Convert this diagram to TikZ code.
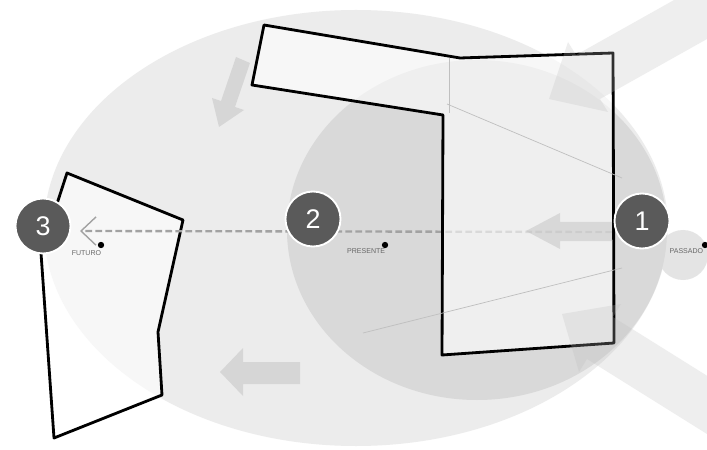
\documentclass[tikz,border=0pt]{standalone}
\usepackage{fontspec}
\setmainfont{Liberation Sans}
\usepackage{xcolor}
\usepackage{tikz}
\usetikzlibrary{arrows.meta, positioning}
\definecolor{outerGrey}{HTML}{ECECEC}
\definecolor{innerGrey}{HTML}{D9D9D9}
\definecolor{softGrey}{HTML}{E4E4E4}
\definecolor{badgeGrey}{HTML}{5A5A5A}
\definecolor{ghostGrey}{HTML}{BDBDBD}
\definecolor{dashGrey}{HTML}{A2A2A2}

\begin{document}
\begin{tikzpicture}[
    x=0.3mm, y=-0.3mm,
    badge/.style={circle, fill=badgeGrey, draw=white, line width=1.6pt, minimum size=16.5mm, inner sep=0pt, text=white, font=\fontsize{23}{23}\selectfont},
    spot/.style={circle, fill=black, inner sep=0pt, minimum size=1.9mm},
    tag/.style={inner sep=0.5pt, text=black!60, font=\fontsize{6}{6}\selectfont},
    plate/.style={draw=black, line width=2.4pt, line join=round, fill=white, fill opacity=0.6},
    ghost/.style={fill=ghostGrey, fill opacity=0.45},
    bigghost/.style={fill=ghostGrey, fill opacity=0.25},
    dashpath/.style={draw=dashGrey, line width=2pt, dash pattern=on 2mm off 1mm},
    ray/.style={draw=black!25, line width=0.6pt},
]
    \useasboundingbox (0,0) rectangle (707,450);
    \fill[white] (0,0) rectangle (707,450);

    \fill[outerGrey] (356,228) ellipse (312 and 218);
    \fill[softGrey] (683,255) circle (25);
    \fill[innerGrey] (477,230) ellipse (190 and 170);

    \draw[plate] (67,173) -- (183,220) -- (158,332) -- (162,395) -- (54,438) -- (41,253) -- cycle;

    \coordinate (dashR) at (612,232);
    \coordinate (dashL) at (80,231);
    \draw[dashpath, -{Straight Barb[length=4.5mm, width=8.5mm, line width=1.2pt]}] (dashR) -- (dashL);

    \draw[plate] (264,25) -- (460,58) -- (613,53) -- (614,343) -- (442,355) -- (443,115) -- (252,85) -- cycle;

    \draw[ray] (449,58) -- (449,113);
    \draw[ray] (447,104) -- (622,178);
    \draw[ray] (363,333) -- (622,268);

    \fill[ghost] (236,57) -- (250,63) -- (235,107) -- (244,110) -- (219,127) -- (212,98) -- (221,101) -- cycle;
    \fill[ghost] (300,362) -- (243,362) -- (243,348) -- (220,372) -- (243,396) -- (243,384) -- (300,384) -- cycle;
    \fill[ghost] (612,222) -- (560,222) -- (560,213) -- (526,231) -- (560,249) -- (560,241) -- (612,241) -- cycle;
    \fill[bigghost] (708,-19) -- (576,55) -- (568,42) -- (549,99) -- (608,112) -- (600,99) -- (732,25) -- cycle;
    \fill[bigghost] (733,392) -- (613,317) -- (621,304) -- (562,314) -- (579,372) -- (587,359) -- (707,434) -- cycle;

    \node[badge] (n3) at (43,226) {3};
    \node[badge] (n2) at (313,219) {2};
    \node[badge] (n1) at (642,221) {1};

    \node[spot] (d3) at (101,245) {};
    \node[spot] (d2) at (385,245) {};
    \node[spot] (d1) at (705,245) {};

    \node[tag, below left=0.8mm and -1mm of d3] (l3) {FUTURO};
    \node[tag, below left=0.2mm and -1mm of d2] (l2) {PRESENTE};
    \node[tag, below left=0.2mm and -0.4mm of d1] (l1) {PASSADO};
\end{tikzpicture}
\end{document}
